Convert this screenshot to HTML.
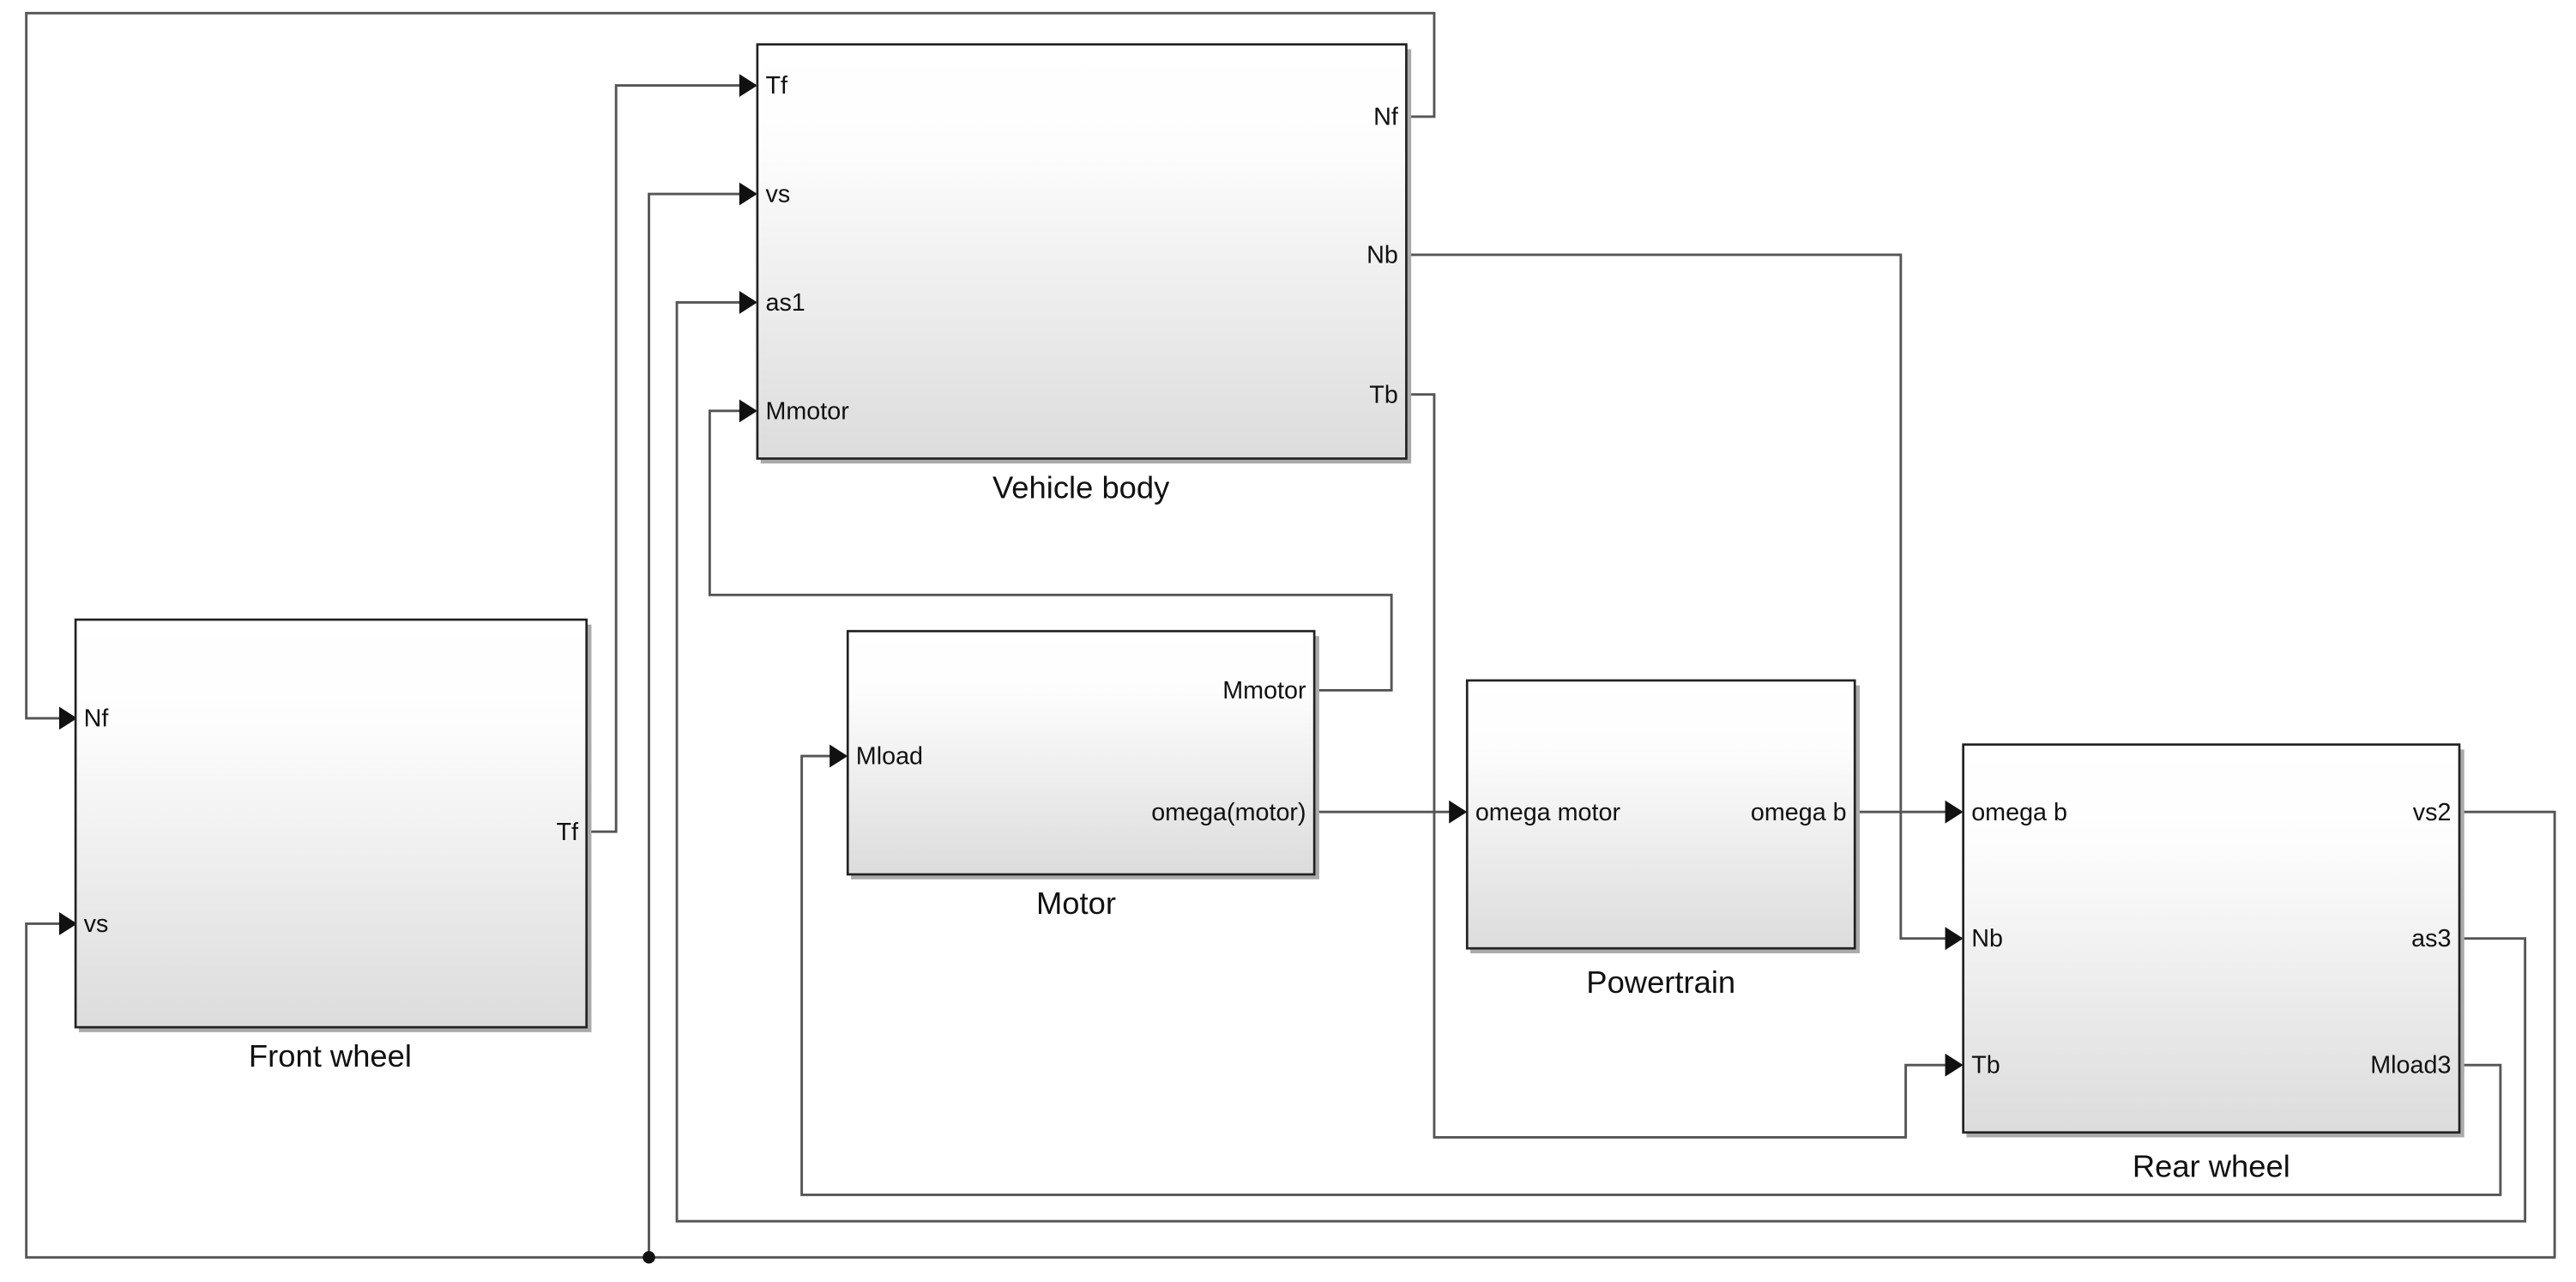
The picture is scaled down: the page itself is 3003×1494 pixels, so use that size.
<!DOCTYPE html>
<html><head><meta charset="utf-8"><style>
html,body{margin:0;padding:0;background:#fff;}
svg{display:block;}
text{font-family:"Liberation Sans",Arial,sans-serif;fill:#111;}
</style></head><body>
<svg width="3003" height="1494" viewBox="0 0 1568 780" preserveAspectRatio="none" xmlns="http://www.w3.org/2000/svg">
<defs>
<linearGradient id="g" x1="0" y1="0" x2="0" y2="1">
<stop offset="0" stop-color="#ffffff"/><stop offset="0.25" stop-color="#fdfdfd"/><stop offset="1" stop-color="#dcdcdc"/>
</linearGradient>
</defs>
<g fill="none" stroke="#555" stroke-width="1.5">
<polyline points="856,71 873,71 873,8 16,8 16,437 38,437"/>
<polyline points="357,506 375,506 375,52 453,52"/>
<polyline points="395,765 395,118 453,118"/>
<polyline points="1497,571 1537,571 1537,743 412,743 412,184 453,184"/>
<polyline points="800,420 847,420 847,362 432,362 432,250 453,250"/>
<polyline points="800,494 885,494"/>
<polyline points="1129,494 1187,494"/>
<polyline points="856,155 1157,155 1157,571 1187,571"/>
<polyline points="856,240 873,240 873,692 1160,692 1160,648 1187,648"/>
<polyline points="1497,648 1522,648 1522,727 488,727 488,460 508,460"/>
<polyline points="1497,494 1555,494 1555,765 16,765 16,562 38,562"/>
</g>
<circle cx="395" cy="765" r="3.8" fill="#111"/>
<g fill="#111">
<polygon points="36,430 47,437 36,444"/>
<polygon points="36,555 47,562 36,569"/>
<polygon points="450,45 461,52 450,59"/>
<polygon points="450,111 461,118 450,125"/>
<polygon points="450,177 461,184 450,191"/>
<polygon points="450,243 461,250 450,257"/>
<polygon points="505,453 516,460 505,467"/>
<polygon points="882,487 893,494 882,501"/>
<polygon points="1184,487 1195,494 1184,501"/>
<polygon points="1184,564 1195,571 1184,578"/>
<polygon points="1184,641 1195,648 1184,655"/>
</g>
<g fill="#aaa">
<rect x="463" y="30" width="396" height="252"/>
<rect x="48" y="380" width="312" height="248"/>
<rect x="518" y="387" width="285" height="148"/>
<rect x="895" y="417" width="237" height="163"/>
<rect x="1197" y="456" width="303" height="236"/>
</g>
<g fill="url(#g)" stroke="#222" stroke-width="1.4">
<rect x="461" y="27" width="395" height="252"/>
<rect x="46" y="377" width="311" height="248"/>
<rect x="516" y="384" width="284" height="148"/>
<rect x="893" y="414" width="236" height="163"/>
<rect x="1195" y="453" width="302" height="236"/>
</g>
<g font-size="15">
<text x="466" y="57">Tf</text>
<text x="466" y="123">vs</text>
<text x="466" y="189">as1</text>
<text x="466" y="255">Mmotor</text>
<text x="851" y="76" text-anchor="end">Nf</text>
<text x="851" y="160" text-anchor="end">Nb</text>
<text x="851" y="245" text-anchor="end">Tb</text>
<text x="51" y="442">Nf</text>
<text x="51" y="567">vs</text>
<text x="352" y="511" text-anchor="end">Tf</text>
<text x="521" y="465">Mload</text>
<text x="795" y="425" text-anchor="end">Mmotor</text>
<text x="795" y="499" text-anchor="end">omega(motor)</text>
<text x="898" y="499">omega motor</text>
<text x="1124" y="499" text-anchor="end">omega b</text>
<text x="1200" y="499">omega b</text>
<text x="1200" y="576">Nb</text>
<text x="1200" y="653">Tb</text>
<text x="1492" y="499" text-anchor="end">vs2</text>
<text x="1492" y="576" text-anchor="end">as3</text>
<text x="1492" y="653" text-anchor="end">Mload3</text>
</g>
<g font-size="19" text-anchor="middle">
<text x="658" y="303">Vehicle body</text>
<text x="201" y="649">Front wheel</text>
<text x="655" y="556">Motor</text>
<text x="1011" y="604">Powertrain</text>
<text x="1346" y="716">Rear wheel</text>
</g>
</svg>
</body></html>
